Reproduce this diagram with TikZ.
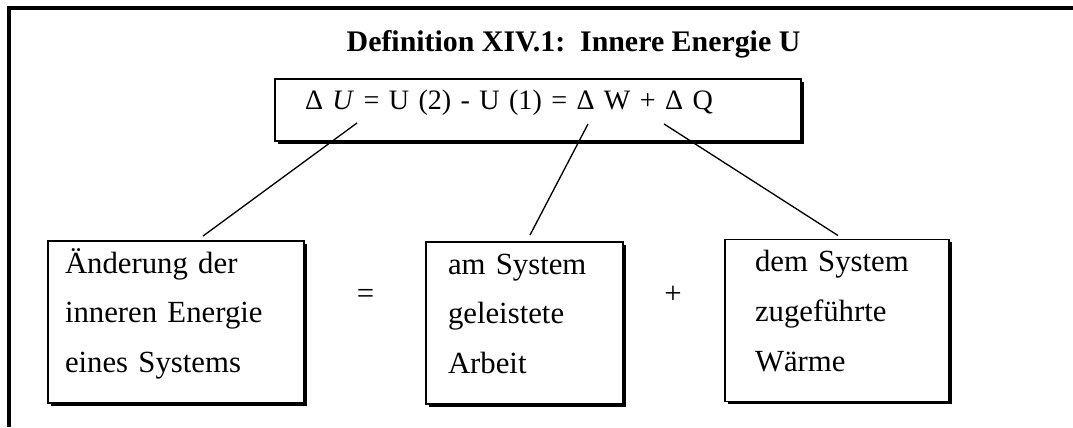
\documentclass[tikz,border=0pt]{standalone}
\usepackage{fontspec}
\setmainfont{Liberation Serif}
\usetikzlibrary{shadows}
\newcommand\eqfont{\fontsize{16}{20}\selectfont\spaceskip=0.16em\relax}
\tikzset{
  rim/.style={line width=2.3pt,line join=miter},
  shade/.style={drop shadow={shadow xshift=1.6pt,shadow yshift=-1.6pt,opacity=1,fill=black}},
  eqbox/.style={draw,line width=1.1pt,fill=white,shade,align=left,inner xsep=0.6cm,inner ysep=0pt,text width=9.32cm,text height=0.6cm,text depth=0.64cm,font=\eqfont},
  box/.style={draw,line width=1.1pt,fill=white,shade,align=left,inner ysep=0pt,text height=0.64cm,text depth=2.6cm,font=\fontsize{17.5}{28.45}\selectfont},
  op/.style={anchor=base,font=\fontsize{17.5}{20}\selectfont},
  ttl/.style={anchor=base,font=\bfseries\fontsize{17}{20}\selectfont},
  link/.style={line width=0.75pt}}
\begin{document}
\begin{tikzpicture}
\useasboundingbox (0,0) rectangle (21.46,8.54);
% frame
\draw[rim] (0.18,0) -- (0.18,8.38) -- (21.46,8.38);
\node[ttl] (head) at (11.47,7.5) {Definition XIV.1:\ \ Innere Energie U};
% formula
\node[eqbox] (eq) at (10.76,6.34) {Δ \textit{U} = U (2) - U (1) = Δ W + Δ Q};
\coordinate (dU) at ([shift={(1.66,0.38)}]eq.south west);
\coordinate (dW) at ([shift={(6.28,0.36)}]eq.south west);
\coordinate (dQ) at ([shift={(7.80,0.36)}]eq.south west);
% terms
\node[box,inner xsep=0.34cm,text width=4.44cm] (chg) at (3.52,2.10) {Änderung der\\inneren Energie\\eines Systems};
\node[box,inner xsep=0.44cm,text width=3.06cm] (work) at (10.49,2.08) {am System\\geleistete\\Arbeit};
\node[box,inner xsep=0.60cm,text width=3.28cm] (heat) at (16.74,2.13) {dem System\\zugeführte\\Wärme};
\node[op] (eqsign) at (7.31,2.48) {=};
\node[op] (plussign) at (13.46,2.47) {+};
\draw[link] (dU) -- ([shift={(0.54,0.08)}]chg.north);
\draw[link] (dW) -- ([shift={(0.11,0.12)}]work.north);
\draw[link] (dQ) -- ([shift={(0.02,0.06)}]heat.north);
\end{tikzpicture}
\end{document}
